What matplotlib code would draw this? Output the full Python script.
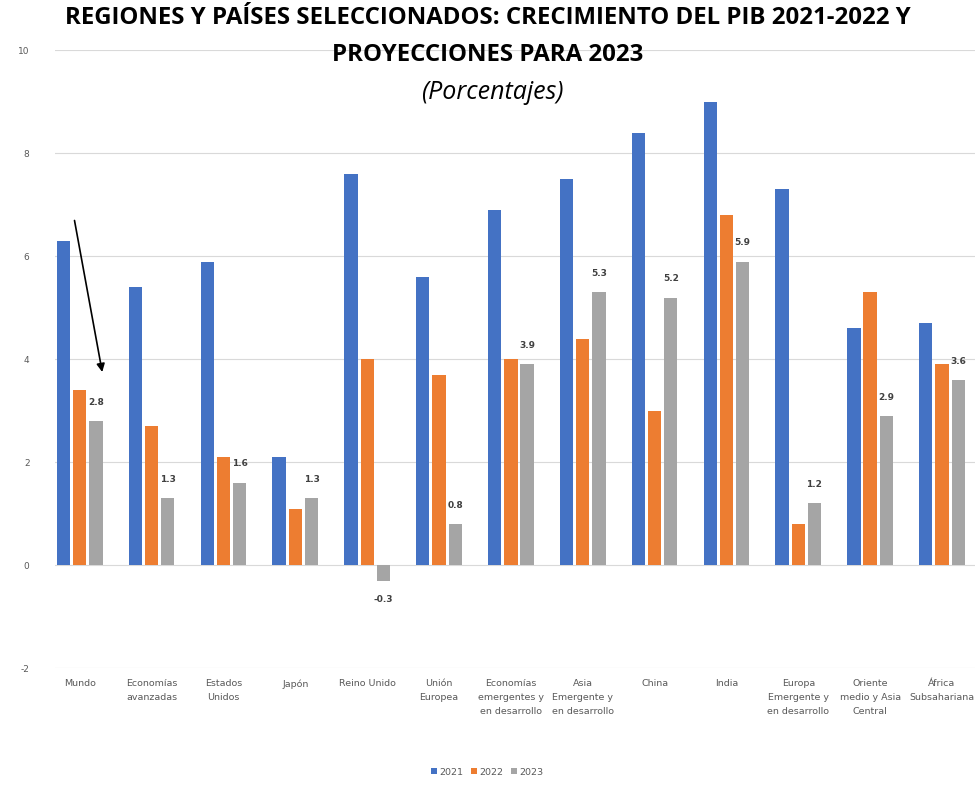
import matplotlib
matplotlib.use("Agg")
import matplotlib.pyplot as plt
import numpy as np

plt.rcParams["axes.unicode_minus"] = False

categorias = [
    "Mundo", "Economías\navanzadas", "Estados\nUnidos", "Japón", "Reino Unido",
    "Unión\nEuropea", "Economías\nemergentes y\nen desarrollo",
    "Asia\nEmergente y\nen desarrollo", "China", "India",
    "Europa\nEmergente y\nen desarrollo", "Oriente\nmedio y Asia\nCentral",
    "África\nSubsahariana",
]
pib_2021 = [6.3, 5.4, 5.9, 2.1, 7.6, 5.6, 6.9, 7.5, 8.4, 9.0, 7.3, 4.6, 4.7]
pib_2022 = [3.4, 2.7, 2.1, 1.1, 4.0, 3.7, 4.0, 4.4, 3.0, 6.8, 0.8, 5.3, 3.9]
pib_2023 = [2.8, 1.3, 1.6, 1.3, -0.3, 0.8, 3.9, 5.3, 5.2, 5.9, 1.2, 2.9, 3.6]
series = ["2021", "2022", "2023"]
colores = ["#4472C4", "#ED7D31", "#A5A5A5"]

fig = plt.figure(figsize=(9.75, 7.88), dpi=100)
ax = fig.add_axes([0.056, 0.152, 0.947, 0.784])

x = np.arange(len(categorias))
ancho = 0.185
paso = 0.225
for k, (vals, col, lab) in enumerate(zip([pib_2021, pib_2022, pib_2023], colores, series)):
    ax.bar(x + (k - 1) * paso, vals, width=ancho, color=col, label=lab, zorder=3)

# etiquetas de 2023
for xi, v in zip(x, pib_2023):
    off = 0.28 if v >= 0 else -0.28
    ax.text(xi + paso, v + off, f"{v:.1f}", ha="center",
            va="bottom" if v >= 0 else "top", fontsize=6.5,
            fontweight="bold", color="#404040", zorder=4)

ax.set_xlim(-0.35, len(categorias) - 0.5)
ax.set_ylim(-2, 10)
ax.set_yticks(range(-2, 11, 2))
ax.yaxis.grid(True, color="#D9D9D9", linewidth=0.8, zorder=0)
ax.set_xticks(x)
ax.set_xticklabels(categorias, fontsize=6.8, color="#595959", linespacing=1.7)
ax.tick_params(axis="both", length=0, pad=8, labelcolor="#595959")
ax.tick_params(axis="y", labelsize=6.5, pad=18)
for s in ax.spines.values():
    s.set_visible(False)

# flecha sobre Mundo
ax.annotate("", xy=(0.32, 3.7), xytext=(-0.08, 6.75),
            arrowprops=dict(arrowstyle="-|>", color="black", lw=1.2,
                            mutation_scale=12), zorder=5)

fig.text(0.5, 0.977, "REGIONES Y PAÍSES SELECCIONADOS: CRECIMIENTO DEL PIB 2021-2022 Y",
         ha="center", va="center", fontsize=17.3, fontweight="bold", family="Open Sans")
fig.text(0.5, 0.93, "PROYECCIONES PARA 2023", ha="center", va="center",
         fontsize=17.3, fontweight="bold", family="Open Sans")
fig.text(0.505, 0.883, "(Porcentajes)", ha="center", va="center",
         fontsize=18, style="italic", family="Open Sans")

fig.legend(loc="center", bbox_to_anchor=(0.5, 0.02), ncol=3, frameon=False,
           fontsize=6.8, handlelength=0.6, handleheight=0.6, handletextpad=0.3,
           columnspacing=0.8, labelcolor="#595959")

fig.savefig("out.png", dpi=100)
